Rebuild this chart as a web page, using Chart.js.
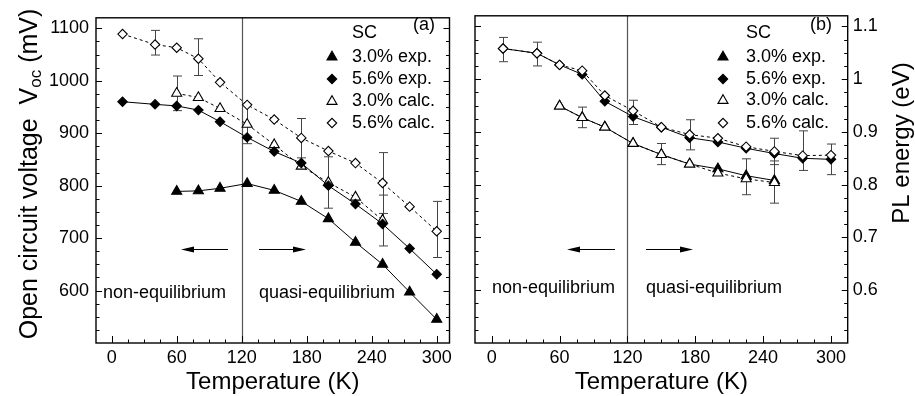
<!DOCTYPE html>
<html>
<head>
<meta charset="utf-8">
<script src="https://cdn.jsdelivr.net/npm/chart.js@4.4.0/dist/chart.umd.min.js"></script>
<style>
    html, body { margin: 0; padding: 0; background: #fff; }
    #wrap { position: relative; width: 915px; height: 396px; }
    canvas { position: absolute; top: 0; }
    #panelA { left: 0; }
    #panelB { left: 457px; }
</style>
</head>
<body>
<div id="wrap">
    <canvas id="panelA" width="457" height="396"></canvas>
    <canvas id="panelB" width="458" height="396"></canvas>
</div>
<script>
// --- Data ---
const temps = [10, 40, 60, 80, 100, 125, 150, 175, 200, 225, 250, 275, 300];
const xTickLabels = [0, 60, 120, 180, 240, 300];

// (a) open circuit voltage, mV
const vocExp30  = [null, null, 789, 790, 795, 804, 791, 770, 737, 692, 650, 597, 545];
const vocExp56  = [960, 955, 952, 944, 922, 892, 865, 843, 800, 765, 727, 680, 631];
const vocCalc30 = [null, null, 976, 968, 947, 917, 878, 837, 806, 778, 734, null, null];
const vocCalc56 = [1089, 1069, 1063, 1042, 997, 954, 926, 891, 866, 843, 805, 760, 713];
const vocErr30  = [null, null, [943, 1009], null, null, [880, 955], null, null, [757, 855], null, [685, 782], null, null];
const vocErr56  = [null, [1049, 1096], null, [1010, 1080], null, null, null, [853, 928], null, null, [747, 863], null, [663, 770]];
const vocTicks  = [600, 700, 800, 900, 1000, 1100];

// (b) PL energy, eV
const plExp30  = [null, null, 0.949, 0.927, 0.909, 0.878, 0.857, 0.839, 0.830, 0.817, 0.808, null, null];
const plExp56  = [1.058, 1.049, 1.027, 1.009, 0.958, 0.929, 0.909, 0.889, 0.881, 0.869, 0.859, 0.850, 0.848];
const plCalc30 = [null, null, 0.949, 0.927, 0.909, 0.878, 0.857, 0.839, 0.822, 0.811, 0.804, null, null];
const plCalc56 = [1.058, 1.049, 1.027, 1.016, 0.969, 0.940, 0.909, 0.895, 0.888, 0.872, 0.863, 0.855, 0.856];
const plErr30  = [null, null, null, [0.908, 0.947], null, null, [0.838, 0.878], null, null, [0.781, 0.849], [0.765, 0.845], null, null];
const plErr56  = [[1.033, 1.079], [1.025, 1.070], null, null, null, [0.914, 0.960], null, [0.866, 0.923], null, null, [0.838, 0.888], [0.827, 0.902], [0.819, 0.877]];
const plTicks  = [0.6, 0.7, 0.8, 0.9, 1, 1.1];

const legendLabels = ['3.0% exp.', '5.6% exp.', '3.0% calc.', '5.6% calc.'];

// --- Styles ---
const FONT = 'Arial, "Liberation Sans", sans-serif';
const markers = [
    { pointStyle: 'triangle', radius: 5.8, fill: '#000', dash: [] },
    { pointStyle: 'rectRot', radius: 4.7, fill: '#000', dash: [] },
    { pointStyle: 'triangle', radius: 5.8, fill: '#fff', dash: [3, 3] },
    { pointStyle: 'rectRot', radius: 4.7, fill: '#fff', dash: [3, 3] }
];

function toPoints(vals) {
    return temps.map((t, i) => vals[i] == null ? null : { x: t, y: vals[i] }).filter(Boolean);
}

function makeDataset(vals, k, order) {
    const m = markers[k];
    return {
        label: legendLabels[k],
        data: toPoints(vals),
        borderColor: '#000',
        borderWidth: 1,
        borderDash: m.dash,
        pointStyle: m.pointStyle,
        pointRadius: m.radius,
        pointBackgroundColor: m.fill,
        pointBorderColor: '#000',
        pointBorderWidth: 1.1,
        tension: 0,
        fill: false,
        order: order
    };
}

// ticks pointing inward, minor every quarter of a major step
function drawTicks(ctx, chart, xMinor, yMinor) {
    const { chartArea: a, scales: { x, y } } = chart;
    ctx.strokeStyle = '#000';
    ctx.lineWidth = 1;
    ctx.beginPath();
    for (let k = Math.ceil(x.min / xMinor); k * xMinor < x.max; k++) {
        const v = k * xMinor;
        if (v <= x.min) continue;
        const px = Math.round(x.getPixelForValue(v)) + 0.5;
        const len = k % 4 === 0 ? 7 : 3.5;
        ctx.moveTo(px, a.bottom);
        ctx.lineTo(px, a.bottom - len);
    }
    for (let k = Math.ceil(y.min / yMinor - 1e-6); k * yMinor < y.max; k++) {
        const v = k * yMinor;
        if (v <= y.min + 1e-9) continue;
        const py = Math.round(y.getPixelForValue(v)) + 0.5;
        const len = k % 4 === 0 ? 6 : 3.5;
        ctx.moveTo(a.left, py);
        ctx.lineTo(a.left + len, py);
        ctx.moveTo(a.right, py);
        ctx.lineTo(a.right - len, py);
    }
    ctx.stroke();
    ctx.lineWidth = 1.4;
    ctx.strokeRect(a.left, a.top, a.right - a.left, a.bottom - a.top);
}

function drawArrow(ctx, x1, x2, y) {
    // from x1 to tip x2
    const dir = Math.sign(x2 - x1);
    ctx.beginPath();
    ctx.moveTo(x1, y);
    ctx.lineTo(x2 - dir * 10, y);
    ctx.stroke();
    ctx.beginPath();
    ctx.moveTo(x2, y);
    ctx.lineTo(x2 - dir * 13, y - 3);
    ctx.lineTo(x2 - dir * 13, y + 3);
    ctx.closePath();
    ctx.fill();
}

// panel decorations: error bars, the 120 K line, arrows, texts, legend
function makeDecor(cfg) {
    return {
        id: 'decor' + cfg.tag,
        beforeDatasetsDraw(chart) {
            const { ctx, chartArea: a, scales: { x, y } } = chart;
            ctx.save();
            // 120 K divider
            const px = Math.round(x.getPixelForValue(120)) + 0.5;
            ctx.strokeStyle = '#555';
            ctx.lineWidth = 1.2;
            ctx.beginPath();
            ctx.moveTo(px, a.top);
            ctx.lineTo(px, a.bottom);
            ctx.stroke();
            // error bars
            ctx.strokeStyle = '#444';
            ctx.lineWidth = 1;
            cfg.errors.forEach(list => list.forEach((e, i) => {
                if (!e) return;
                const ex = Math.round(x.getPixelForValue(temps[i])) + 0.5;
                const lo = y.getPixelForValue(e[0]);
                const hi = y.getPixelForValue(e[1]);
                ctx.beginPath();
                ctx.moveTo(ex, lo); ctx.lineTo(ex, hi);
                ctx.moveTo(ex - 4.5, lo); ctx.lineTo(ex + 4.5, lo);
                ctx.moveTo(ex - 4.5, hi); ctx.lineTo(ex + 4.5, hi);
                ctx.stroke();
            }));
            ctx.restore();
        },
        afterDatasetsDraw(chart) {
            const { ctx } = chart;
            const off = cfg.offset;
            ctx.save();
            drawTicks(ctx, chart, 15, cfg.yMinor);

            ctx.fillStyle = '#000';
            ctx.strokeStyle = '#000';
            ctx.lineWidth = 1.2;
            drawArrow(ctx, cfg.arrowL[0] - off, cfg.arrowL[1] - off, cfg.arrowY);
            drawArrow(ctx, cfg.arrowR[0] - off, cfg.arrowR[1] - off, cfg.arrowY);

            ctx.font = '18px ' + FONT;
            ctx.textAlign = 'left';
            ctx.textBaseline = 'alphabetic';
            ctx.fillText('non-equilibrium', cfg.nonEq[0] - off, cfg.nonEq[1]);
            ctx.fillText('quasi-equilibrium', cfg.quasiEq[0] - off, cfg.quasiEq[1]);

            // legend
            ctx.textBaseline = 'middle';
            ctx.fillText(cfg.panelLabel, cfg.panelLabelPos[0] - off, cfg.panelLabelPos[1]);
            ctx.fillText('SC', cfg.legendText - off, cfg.legendTop);
            legendLabels.forEach((lab, k) => {
                const ly = cfg.legendRows[k];
                const m = markers[k];
                ctx.fillStyle = m.fill;
                ctx.strokeStyle = '#000';
                ctx.lineWidth = 1.1;
                Chart.helpers.drawPoint(ctx, { pointStyle: m.pointStyle, radius: m.radius, rotation: 0, borderWidth: 1.1 },
                    cfg.legendSym - off, ly);
                ctx.fillStyle = '#000';
                ctx.fillText(lab, cfg.legendText - off, ly);
            });

            // axis titles
            const a = chart.chartArea;
            ctx.font = '24px ' + FONT;
            ctx.textAlign = 'center';
            ctx.textBaseline = 'alphabetic';
            ctx.fillText('Temperature (K)', (a.left + a.right) / 2, 389);
            cfg.yTitle(ctx);
            ctx.restore();
        }
    };
}

function baseScales(xMin, xMax, yMin, yMax, yTicks, yPos, yWidth) {
    return {
        x: {
            type: 'linear', min: xMin, max: xMax,
            grid: { display: false, drawTicks: false },
            border: { display: false },
            afterBuildTicks: s => { s.ticks = xTickLabels.map(v => ({ value: v })); },
            afterFit: s => { s.height = 53; },
            ticks: { color: '#000', font: { family: FONT, size: 18 }, padding: 4, maxRotation: 0 }
        },
        y: {
            type: 'linear', position: yPos, min: yMin, max: yMax,
            grid: { display: false, drawTicks: false },
            border: { display: false },
            afterBuildTicks: s => { s.ticks = yTicks.map(v => ({ value: v })); },
            afterFit: s => { s.width = yWidth; },
            ticks: {
                color: '#000', font: { family: FONT, size: 18 }, padding: yPos === 'left' ? 7 : 5,
                callback: v => String(Math.round(v * 10) / 10)
            }
        }
    };
}

const commonOptions = {
    responsive: false,
    animation: false,
    events: [],
    plugins: { legend: { display: false }, tooltip: { enabled: false } }
};

// --- Panel (a) ---
new Chart(document.getElementById('panelA'), {
    type: 'line',
    data: {
        datasets: [
            makeDataset(vocExp30, 0, 2),
            makeDataset(vocExp56, 1, 1),
            makeDataset(vocCalc30, 2, 3),
            makeDataset(vocCalc56, 3, 4)
        ]
    },
    options: {
        ...commonOptions,
        layout: { padding: { top: 5, right: 7.5, left: 0, bottom: 0 } },
        scales: baseScales(-14.5, 311.8, 500, 1120, vocTicks, 'left', 96)
    },
    plugins: [makeDecor({
        tag: 'A', offset: 0, yMinor: 25,
        errors: [vocErr30, vocErr56],
        arrowL: [228, 181], arrowR: [259, 306], arrowY: 249.5,
        nonEq: [103, 298], quasiEq: [259, 298],
        panelLabel: '(a)', panelLabelPos: [413, 25],
        legendSym: 332, legendText: 352, legendTop: 33,
        legendRows: [57, 79, 101.5, 123],
        yTitle: ctx => {
            const big = '25px ' + FONT, small = '17px ' + FONT;
            const p1 = 'Open circuit voltage  V', p2 = 'oc', p3 = ' (mV)';
            ctx.save();
            ctx.translate(27, 174);
            ctx.rotate(-Math.PI / 2);
            ctx.textAlign = 'left';
            ctx.font = big; const w1 = ctx.measureText(p1).width; const w3 = ctx.measureText(p3).width;
            ctx.font = small; const w2 = ctx.measureText(p2).width;
            let x0 = -(w1 + w2 + w3) / 2;
            ctx.font = big; ctx.fillText(p1, x0, 10);
            ctx.font = small; ctx.fillText(p2, x0 + w1, 14);
            ctx.font = big; ctx.fillText(p3, x0 + w1 + w2, 10);
            ctx.restore();
        }
    })]
});

// --- Panel (b) ---
new Chart(document.getElementById('panelB'), {
    type: 'line',
    data: {
        datasets: [
            makeDataset(plExp30, 0, 3),
            makeDataset(plExp56, 1, 4),
            makeDataset(plCalc30, 2, 1),
            makeDataset(plCalc56, 3, 2)
        ]
    },
    options: {
        ...commonOptions,
        layout: { padding: { top: 5, right: 0, left: 18, bottom: 0 } },
        scales: baseScales(-14.8, 314.8, 0.5, 1.12, plTicks, 'right', 67.3)
    },
    plugins: [makeDecor({
        tag: 'B', offset: 457, yMinor: 0.025,
        errors: [plErr30, plErr56],
        arrowL: [615, 567], arrowR: [646, 693], arrowY: 249.5,
        nonEq: [492, 293], quasiEq: [646, 293],
        panelLabel: '(b)', panelLabelPos: [810, 25],
        legendSym: 723, legendText: 746, legendTop: 33,
        legendRows: [57, 79, 100.5, 123],
        yTitle: ctx => {
            ctx.save();
            ctx.translate(900 - 457, 143);
            ctx.rotate(-Math.PI / 2);
            ctx.font = '24px ' + FONT;
            ctx.textAlign = 'center';
            ctx.fillText('PL energy (eV)', 0, 8.5);
            ctx.restore();
        }
    })]
});
</script>
</body>
</html>
